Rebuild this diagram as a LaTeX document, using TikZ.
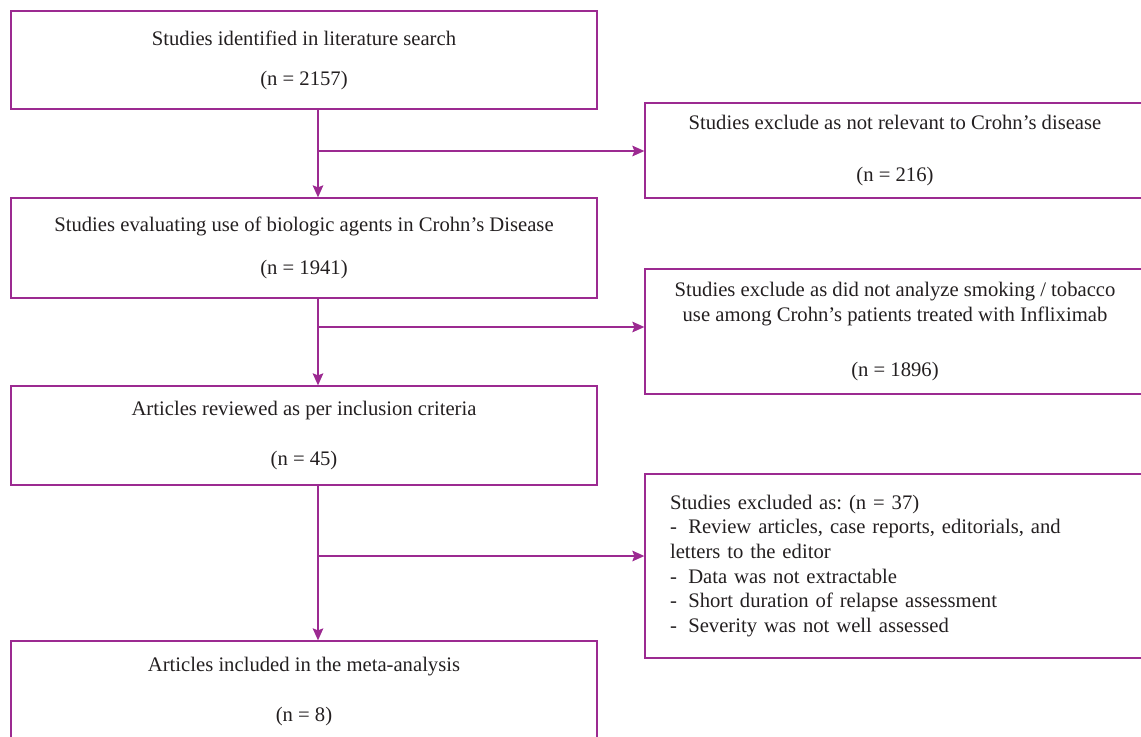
\documentclass[tikz,border=0pt]{standalone}
\usepackage{fontspec}
\setmainfont{Liberation Serif}
\usepackage{tikz}
\usetikzlibrary{arrows.meta}
\definecolor{flowpurple}{HTML}{9C2A91}
\definecolor{flowtext}{HTML}{231F20}
\newcommand{\exdash}{-\hspace{0.55em}}
\frenchspacing

\begin{document}
\begin{tikzpicture}[x = 0.75pt, y = -0.75pt,
    box/.style = {draw = flowpurple, line width = 1pt, rectangle, inner sep = 0pt,
      text = flowtext, align = center, font = \fontsize{15.5}{18.5}\selectfont},
    flow/.style = {draw = flowpurple, line width = 1pt,
      -{Stealth[length = 9pt, width = 8pt, inset = 1.5pt]}}]%
  \useasboundingbox (0, 0) rectangle (1141, 736);

  % main column
  \node[box, minimum width = 439.5pt, minimum height = 73.5pt] (found) at (304, 60)
    {Studies identified in literature search\\[11.5pt](n = 2157)};
  \node[box, minimum width = 439.5pt, minimum height = 75pt] (evaluated) at (304, 248)
    {Studies evaluating use of biologic agents in Crohn’s Disease\\[13.75pt](n = 1941)};
  \node[box, minimum width = 439.5pt, minimum height = 74.25pt] (reviewed) at (304, 435.5)
    {Articles reviewed as per inclusion criteria\\[19pt](n = 45)};
  \node[box, minimum width = 439.5pt, minimum height = 76.5pt] (included) at (304, 692)
    {Articles included in the meta-analysis\\[19pt](n = 8)};

  % exclusions
  \node[box, minimum width = 375pt, minimum height = 71.25pt] (notrelevant) at (895, 150.5)
    {Studies exclude as not relevant to Crohn’s disease\\[20.5pt](n = 216)};
  \node[box, minimum width = 375pt, minimum height = 93.75pt] (nosmoking) at (895, 331.5)
    {Studies exclude as did not analyze smoking / tobacco\\use among Crohn’s patients treated with Infliximab\\[22.75pt](n = 1896)};
  \node[box, minimum width = 375pt, minimum height = 138pt, align = left, text width = 337.5pt] (excluded) at (895, 566)
    {Studies excluded as: (n = 37)\\
     \exdash Review articles, case reports, editorials, and\\
     letters to the editor\\
     \exdash Data was not extractable\\
     \exdash Short duration of relapse assessment\\
     \exdash Severity was not well assessed};

  \coordinate (trunk) at (318, 0);
  \coordinate (split1) at (318, 151);
  \coordinate (split2) at (318, 327);
  \coordinate (split3) at (318, 556);

  \draw[flow] (found.south -| trunk) -- (evaluated.north -| trunk);
  \draw[flow] (evaluated.south -| trunk) -- (reviewed.north -| trunk);
  \draw[flow] (reviewed.south -| trunk) -- (included.north -| trunk);

  \draw[flow] (split1) -- (split1 -| notrelevant.west);
  \draw[flow] (split2) -- (split2 -| nosmoking.west);
  \draw[flow] (split3) -- (split3 -| excluded.west);
\end{tikzpicture}
\end{document}
